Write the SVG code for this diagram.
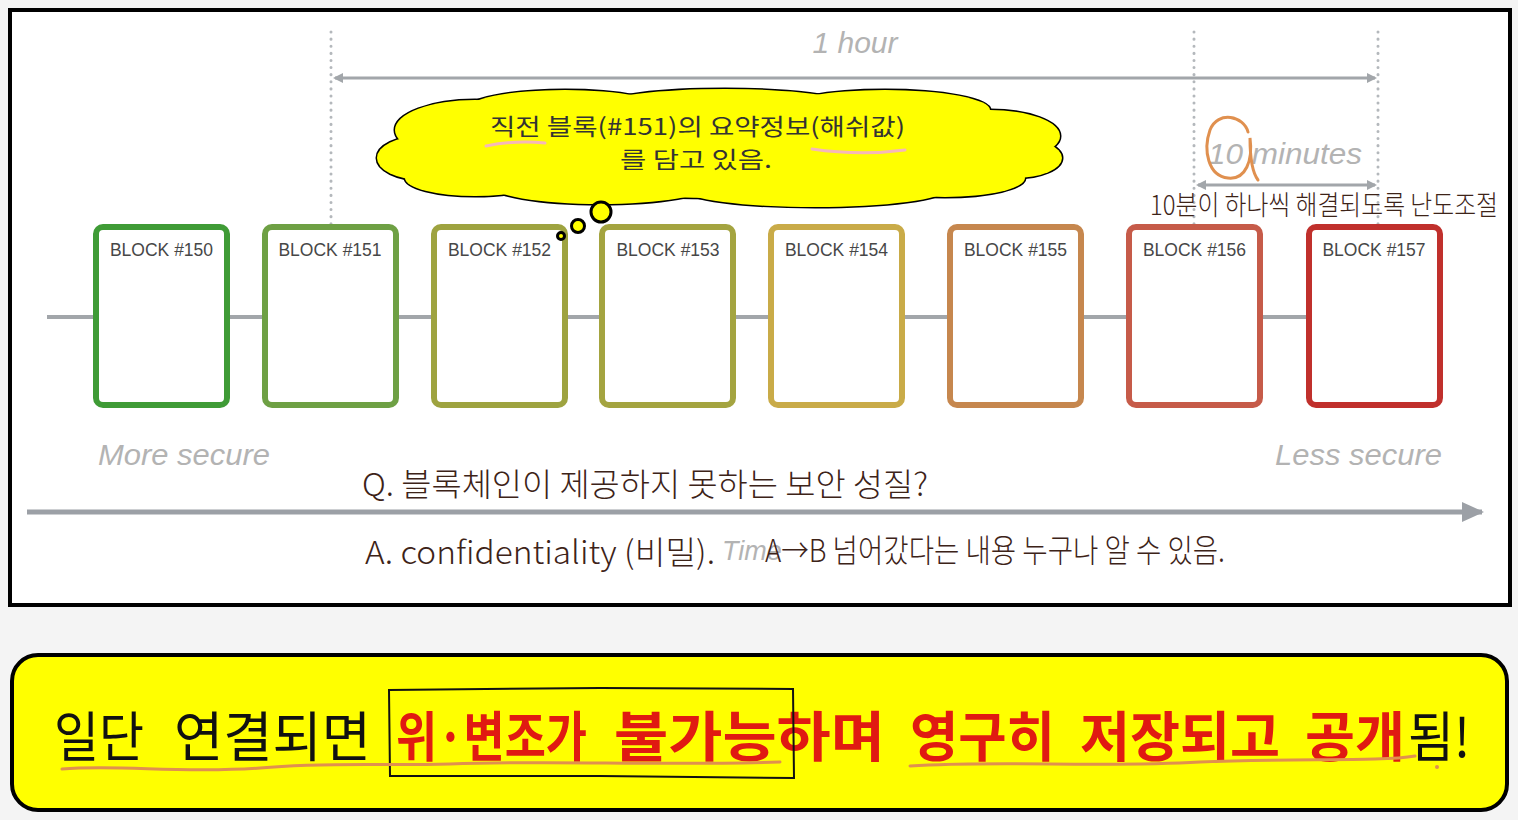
<svg xmlns="http://www.w3.org/2000/svg" width="1518" height="820" viewBox="0 0 1518 820">
<style>
.dot{stroke:#b4b8bc;stroke-width:3;stroke-dasharray:0.1 7;stroke-linecap:round;fill:none}
.gline{stroke:#a2a6aa;fill:none}
.glabel{font-family:"Liberation Sans",Arial,sans-serif;font-style:italic;fill:#b3b3b3}
.blk{fill:#fff;stroke-width:6}
.blabel{font-family:"Liberation Sans",Arial,sans-serif;font-size:17.5px;fill:#474747;text-anchor:middle}
.hand{font-family:"Noto Sans CJK KR",sans-serif;font-weight:300;fill:#3d2318}
.cloud{fill:#ffff00;stroke:#000;stroke-width:3}
.cfill{fill:#ffff00}
.ctext{font-family:"Noto Sans CJK KR",sans-serif;font-size:23px;fill:#333}
.big{font-family:"Noto Sans CJK KR",sans-serif;font-size:54px}
.blk-t{fill:#111;font-weight:400}
.red-t{fill:#e01a12;font-weight:700}
.orange{fill:none;stroke:#e0904f;stroke-width:3;stroke-linecap:round}
</style>
<defs>
<marker id="ah" markerWidth="10" markerHeight="10" refX="8" refY="5" orient="auto-start-reverse" markerUnits="userSpaceOnUse" viewBox="0 0 10 10">
<path d="M0,0 L10,5 L0,10 z" fill="#a2a6aa"/>
</marker>
<marker id="ahBig" markerWidth="24" markerHeight="24" refX="20" refY="12" orient="auto" markerUnits="userSpaceOnUse" viewBox="0 0 24 24">
<path d="M0,2 L22,12 L0,22 z" fill="#9ca0a6"/>
</marker>
</defs>
<rect x="0" y="0" width="1518" height="820" fill="#f4f4f4"/>
<rect id="frame" x="10" y="10" width="1500" height="595" fill="#fff" stroke="#000" stroke-width="4"/>

<g id="guides">
<line class="dot" x1="331" y1="32" x2="331" y2="225"/>
<line class="dot" x1="1194" y1="32" x2="1194" y2="225"/>
<line class="dot" x1="1378" y1="32" x2="1378" y2="225"/>
</g>

<g id="connectors">
<line class="gline" x1="335" y1="78" x2="1375" y2="78" stroke-width="3" marker-start="url(#ah)" marker-end="url(#ah)"/>
<line class="gline" x1="1198" y1="185" x2="1375" y2="185" stroke-width="3" marker-start="url(#ah)" marker-end="url(#ah)"/>
<line class="gline" x1="47" y1="317" x2="1308" y2="317" stroke-width="4"/>
<line x1="27" y1="512" x2="1482" y2="512" stroke="#9ca0a6" stroke-width="5" marker-end="url(#ahBig)"/>
</g>

<text class="glabel" x="855" y="53" font-size="30" text-anchor="middle">1 hour</text>
<text class="glabel" x="1208" y="164" font-size="30" textLength="154" lengthAdjust="spacingAndGlyphs">10 minutes</text>
<text class="glabel" x="98" y="465" font-size="30" textLength="172" lengthAdjust="spacingAndGlyphs">More secure</text>
<text class="glabel" x="1275" y="465" font-size="30" textLength="167" lengthAdjust="spacingAndGlyphs">Less secure</text>
<text class="glabel" x="722" y="560" font-size="27">Time</text>

<g id="block150"><rect class="blk" x="96" y="227" width="131" height="178" rx="7" stroke="#3f9b36"/><text class="blabel" x="161.5" y="256">BLOCK #150</text></g>
<g id="block151"><rect class="blk" x="265" y="227" width="131" height="178" rx="7" stroke="#6ea044"/><text class="blabel" x="330" y="256">BLOCK #151</text></g>
<g id="block152"><rect class="blk" x="434" y="227" width="131" height="178" rx="7" stroke="#9ea340"/><text class="blabel" x="499.5" y="256">BLOCK #152</text></g>
<g id="block153"><rect class="blk" x="602" y="227" width="131" height="178" rx="7" stroke="#a4a440"/><text class="blabel" x="668" y="256">BLOCK #153</text></g>
<g id="block154"><rect class="blk" x="771" y="227" width="131" height="178" rx="7" stroke="#c9ab48"/><text class="blabel" x="836.5" y="256">BLOCK #154</text></g>
<g id="block155"><rect class="blk" x="950" y="227" width="131" height="178" rx="7" stroke="#c6874e"/><text class="blabel" x="1015.5" y="256">BLOCK #155</text></g>
<g id="block156"><rect class="blk" x="1129" y="227" width="131" height="178" rx="7" stroke="#c65b49"/><text class="blabel" x="1194.5" y="256">BLOCK #156</text></g>
<g id="block157"><rect class="blk" x="1309" y="227" width="131" height="178" rx="7" stroke="#c0302c"/><text class="blabel" x="1374" y="256">BLOCK #157</text></g>

<g id="cloud">
<g class="cloud">
<ellipse cx="720" cy="150" rx="270" ry="48"/>
<ellipse cx="475" cy="130" rx="80" ry="30"/>
<ellipse cx="422" cy="158" rx="45" ry="22"/>
<ellipse cx="565" cy="110" rx="100" ry="20"/>
<ellipse cx="725" cy="104" rx="120" ry="15"/>
<ellipse cx="885" cy="110" rx="105" ry="20"/>
<ellipse cx="990" cy="136" rx="70" ry="26"/>
<ellipse cx="1015" cy="158" rx="47" ry="20"/>
<ellipse cx="600" cy="185" rx="110" ry="19"/>
<ellipse cx="815" cy="190" rx="130" ry="17"/>
<ellipse cx="945" cy="178" rx="80" ry="19"/>
<ellipse cx="475" cy="178" rx="70" ry="18"/>
</g>
<g class="cfill">
<ellipse cx="720" cy="150" rx="270" ry="48"/>
<ellipse cx="475" cy="130" rx="80" ry="30"/>
<ellipse cx="422" cy="158" rx="45" ry="22"/>
<ellipse cx="565" cy="110" rx="100" ry="20"/>
<ellipse cx="725" cy="104" rx="120" ry="15"/>
<ellipse cx="885" cy="110" rx="105" ry="20"/>
<ellipse cx="990" cy="136" rx="70" ry="26"/>
<ellipse cx="1015" cy="158" rx="47" ry="20"/>
<ellipse cx="600" cy="185" rx="110" ry="19"/>
<ellipse cx="815" cy="190" rx="130" ry="17"/>
<ellipse cx="945" cy="178" rx="80" ry="19"/>
<ellipse cx="475" cy="178" rx="70" ry="18"/>
</g>
<circle class="cloud" cx="601" cy="212" r="10"/>
<circle class="cloud" cx="578" cy="226" r="6.5"/>
<circle class="cloud" cx="561" cy="236" r="3.5"/>
<text class="ctext" x="490" y="135" textLength="415" lengthAdjust="spacingAndGlyphs">직전 블록(#151)의 요약정보(해쉬값)</text>
<text class="ctext" x="620" y="168" textLength="152" lengthAdjust="spacingAndGlyphs">를 담고 있음.</text>
<path d="M486,146 Q515,140 545,143" fill="none" stroke="#f6b8b8" stroke-width="3" stroke-linecap="round"/>
<path d="M812,149 Q860,156 905,150" fill="none" stroke="#f6b8b8" stroke-width="3" stroke-linecap="round"/>
</g>

<g id="annotations">
<path class="orange" d="M1248,132 C1244,116 1218,110 1210,130 C1203,150 1208,176 1228,178 C1246,180 1253,160 1250,138 C1250,158 1252,172 1258,180"/>
<text class="hand" x="1150" y="215" font-size="27" textLength="348" lengthAdjust="spacingAndGlyphs">10분이 하나씩 해결되도록 난도조절</text>
<text class="hand" x="362" y="496" font-size="32" textLength="566" lengthAdjust="spacingAndGlyphs">Q. 블록체인이 제공하지 못하는 보안 성질?</text>
<text class="hand" x="365" y="564" font-size="32" textLength="350" lengthAdjust="spacingAndGlyphs">A. confidentiality (비밀).</text>
<text class="hand" x="765" y="562" font-size="32" textLength="460" lengthAdjust="spacingAndGlyphs">A→B 넘어갔다는 내용 누구나 알 수 있음.</text>
</g>

<g id="summary">
<rect x="12" y="655" width="1495" height="155" rx="26" fill="#ffff00" stroke="#000" stroke-width="4"/>
<text class="big blk-t" x="54" y="757" textLength="90" lengthAdjust="spacingAndGlyphs">일단</text>
<text class="big blk-t" x="174" y="757" textLength="197" lengthAdjust="spacingAndGlyphs">연결되면</text>
<text class="big red-t" x="396" y="757" textLength="191" lengthAdjust="spacingAndGlyphs">위·변조가</text>
<text class="big red-t" x="614" y="757" textLength="271" lengthAdjust="spacingAndGlyphs">불가능하며</text>
<text class="big red-t" x="910" y="757" textLength="145" lengthAdjust="spacingAndGlyphs">영구히</text>
<text class="big red-t" x="1080" y="757" textLength="200" lengthAdjust="spacingAndGlyphs">저장되고</text>
<text class="big red-t" x="1305" y="757" textLength="100" lengthAdjust="spacingAndGlyphs">공개</text>
<text class="big blk-t" x="1408" y="757" textLength="62" lengthAdjust="spacingAndGlyphs">됨!</text>
<path d="M389,690 L600,688 L793,689 L794,778 L600,776 L390,776 Z" fill="none" stroke="#111" stroke-width="2"/>
<path class="orange" d="M62,769 C120,764 180,774 260,768 C330,762 380,766 450,764 C560,760 650,766 780,762"/>
<path class="orange" d="M910,766 C1000,760 1100,768 1200,762 C1300,758 1380,762 1415,756"/>
<circle cx="1437" cy="767" r="2" fill="#e0904f"/>
</g>
</svg>
